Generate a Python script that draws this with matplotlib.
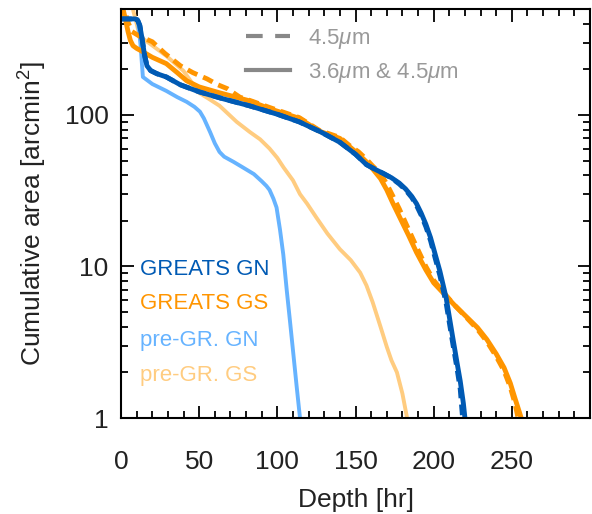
import numpy as np
import matplotlib
matplotlib.use('Agg')
import matplotlib.pyplot as plt
from matplotlib import ticker
from matplotlib.lines import Line2D

plt.rcParams['font.family'] = ['Liberation Sans', 'DejaVu Sans']
plt.rcParams['mathtext.fontset'] = 'custom'
plt.rcParams['mathtext.rm'] = 'Liberation Sans'
plt.rcParams['mathtext.it'] = 'Liberation Sans:italic'

# GREATS GN, 3.6 & 4.5 um
gn_hr = [0, 9, 10.5, 12, 13.5, 15, 16.6, 19, 23, 29, 38, 50, 65, 82, 100, 114, 128, 140,
         150, 157, 163, 168, 173, 178, 182, 186, 189, 192, 195, 198, 201, 204, 208, 212, 215,
         217, 219, 220]
gn_area = [430, 430, 425, 390, 318, 250, 211, 196, 187, 178, 158, 142, 128, 115, 101, 90, 77, 66,
           55, 47, 43.5, 41, 38.5, 35.5, 32.5, 29, 26, 22.5, 19, 15.5, 12, 9.3, 6.2, 3.5, 2.3,
           1.75, 1.25, 1.0]
# GREATS GN, 4.5 um only
gn45_hr = [0, 9, 10.5, 12, 13.5, 15, 16.6, 19, 23, 29, 38, 50, 65, 82, 100, 114, 128, 140,
           150, 157, 163, 168, 173, 178, 182, 186, 189, 192, 195, 198, 201, 204, 208, 212, 215,
           217, 218.5]
gn45_area = [430, 430, 425, 390, 318, 250, 211, 196, 187, 178, 158, 142, 128, 115, 101, 90, 77, 66,
             55, 47, 43.5, 41, 38.3, 35, 32, 28.5, 25.3, 21.8, 18.3, 14.8, 11.3, 8.7, 5.7, 3.2,
             2.1, 1.55, 1.0]

# GREATS GS, 3.6 & 4.5 um
gs_hr = [0, 1.3, 3, 4.5, 6, 7.7, 10, 14, 20, 29, 36, 42, 50, 63, 82, 95, 114, 127, 140, 146,
         152, 157, 161, 166, 170, 174, 178, 184, 189, 195, 200, 206, 213, 221, 228, 234, 240,
         245, 249, 252, 254.5, 256]
gs_area = [800, 500, 420, 355, 310, 286, 275, 261, 240, 218, 190, 168, 153, 140, 124, 110, 95, 78,
           70, 62, 55, 49, 44, 38, 32, 26, 21.4, 16, 12.4, 9.5, 7.8, 6.7, 5.6, 4.65, 3.95, 3.3,
           2.65, 2.15, 1.7, 1.35, 1.12, 1.0]
# GREATS GS, 4.5 um only
gs45_hr = [0, 2, 4, 7, 12, 20, 28, 38, 46, 55, 62, 68, 76, 84, 95, 114, 127, 140, 146, 152, 157,
           161, 166, 170, 174, 178, 184, 189, 195, 200, 206, 213, 221, 228, 234, 240, 245, 249,
           252, 254]
gs45_area = [800, 520, 420, 355, 330, 304, 255, 211, 190, 173, 158, 149, 131, 123, 112, 96, 79, 71,
             63, 57, 51, 46, 41, 35, 29, 24, 17.5, 13.5, 10, 8.1, 6.8, 5.6, 4.6, 3.85, 3.2, 2.55,
             2.05, 1.6, 1.25, 1.0]

# pre-GREATS GN
pgn_hr = [0, 10, 11, 12.5, 14, 20, 29, 36, 42, 47, 50.5, 53, 57, 60, 63, 66, 72, 78, 85, 90,
          93, 95, 97.5, 99.5, 101.7, 103.8, 106, 108, 110, 112.4, 114.5]
pgn_area = [430, 430, 400, 290, 178, 160, 144, 131, 122, 113, 105, 95, 77, 65, 57, 53, 49, 45,
            40.7, 36.5, 34, 32, 28, 24.5, 17.5, 12, 7, 4.45, 2.8, 1.6, 1.0]

# pre-GREATS GS
pgs_hr = [4, 6, 8, 10, 12, 18.5, 29, 40, 45, 49, 56, 63, 74, 82.5, 89, 95, 100, 104, 110,
          114.5, 119, 125, 132, 140, 147, 153, 157, 161, 166, 170, 173, 176.5, 180, 183]
pgs_area = [800, 600, 480, 400, 330, 295, 245, 195, 165, 142, 128, 115, 90, 77, 69, 60, 52,
            45, 37, 30, 26, 21, 16.5, 13, 11, 9.1, 7.5, 5.8, 4.0, 2.95, 2.4, 2.0, 1.45, 1.0]

c_gn = '#005ab4'
c_gs = '#ff9500'
c_pgn = '#66b3ff'
c_pgs = '#ffcc80'

fig = plt.figure(figsize=(5.92, 5.14), dpi=100)
ax = fig.add_axes([121 / 592, 96 / 514, 469 / 592, 409 / 514])

kw = dict(solid_capstyle='butt', solid_joinstyle='round')
ax.plot(pgs_hr, pgs_area, color=c_pgs, lw=2.8, **kw)
ax.plot(pgn_hr, pgn_area, color=c_pgn, lw=2.8, **kw)
ax.plot(gs45_hr, gs45_area, color=c_gs, lw=3.5, dashes=(2.2, 1.3))
ax.plot(gs_hr, gs_area, color=c_gs, lw=3.5, **kw)
ax.plot(gn45_hr, gn45_area, color=c_gn, lw=3.5, dashes=(2.2, 1.3))
ax.plot(gn_hr, gn_area, color=c_gn, lw=3.5, **kw)

ax.set_yscale('log')
ax.set_xlim(0, 300)
ax.set_ylim(1, 500)
ax.set_xticks([0, 50, 100, 150, 200, 250])
ax.xaxis.set_minor_locator(ticker.MultipleLocator(10))
ax.set_yticks([1, 10, 100])
ax.set_yticklabels(['1', '10', '100'])
ax.yaxis.set_minor_locator(ticker.LogLocator(base=10, subs=np.arange(2, 10)))
ax.yaxis.set_minor_formatter(ticker.NullFormatter())

for s in ax.spines.values():
    s.set_linewidth(1.5)
ax.tick_params(which='both', direction='in', top=True, right=True, labelsize=19,
               labelcolor='#222222', width=1.3)
ax.tick_params(which='major', length=9)
ax.tick_params(which='minor', length=5)
ax.tick_params(axis='x', pad=23)
ax.tick_params(axis='y', pad=9)

ax.set_xlabel('Depth [hr]', fontsize=19, color='#222222', labelpad=10)
ax.set_ylabel('Cumulative area [arcmin$^2$]', fontsize=19, color='#222222', labelpad=11)

names = ['GREATS GN', 'GREATS GS', 'pre-GR. GN', 'pre-GR. GS']
cols = [c_gn, c_gs, c_pgn, c_pgs]
ys = [0.362, 0.281, 0.19, 0.105]
for n, c, y in zip(names, cols, ys):
    ax.text(0.041, y, n, color=c, fontsize=16, transform=ax.transAxes, va='center', ha='left')

h1 = Line2D([], [], color='#888888', lw=3, dashes=(4, 3))
h2 = Line2D([], [], color='#888888', lw=3)
leg = ax.legend([h1, h2], [r'4.5$\mu$m', r'3.6$\mu$m & 4.5$\mu$m'], loc='upper left',
                bbox_to_anchor=(0.233, 0.995), frameon=False, fontsize=16, handlelength=2.0,
                handletextpad=0.8, labelspacing=0.45, borderaxespad=0.3)
for t in leg.get_texts():
    t.set_color('#999999')

fig.savefig('out.png', dpi=100)
